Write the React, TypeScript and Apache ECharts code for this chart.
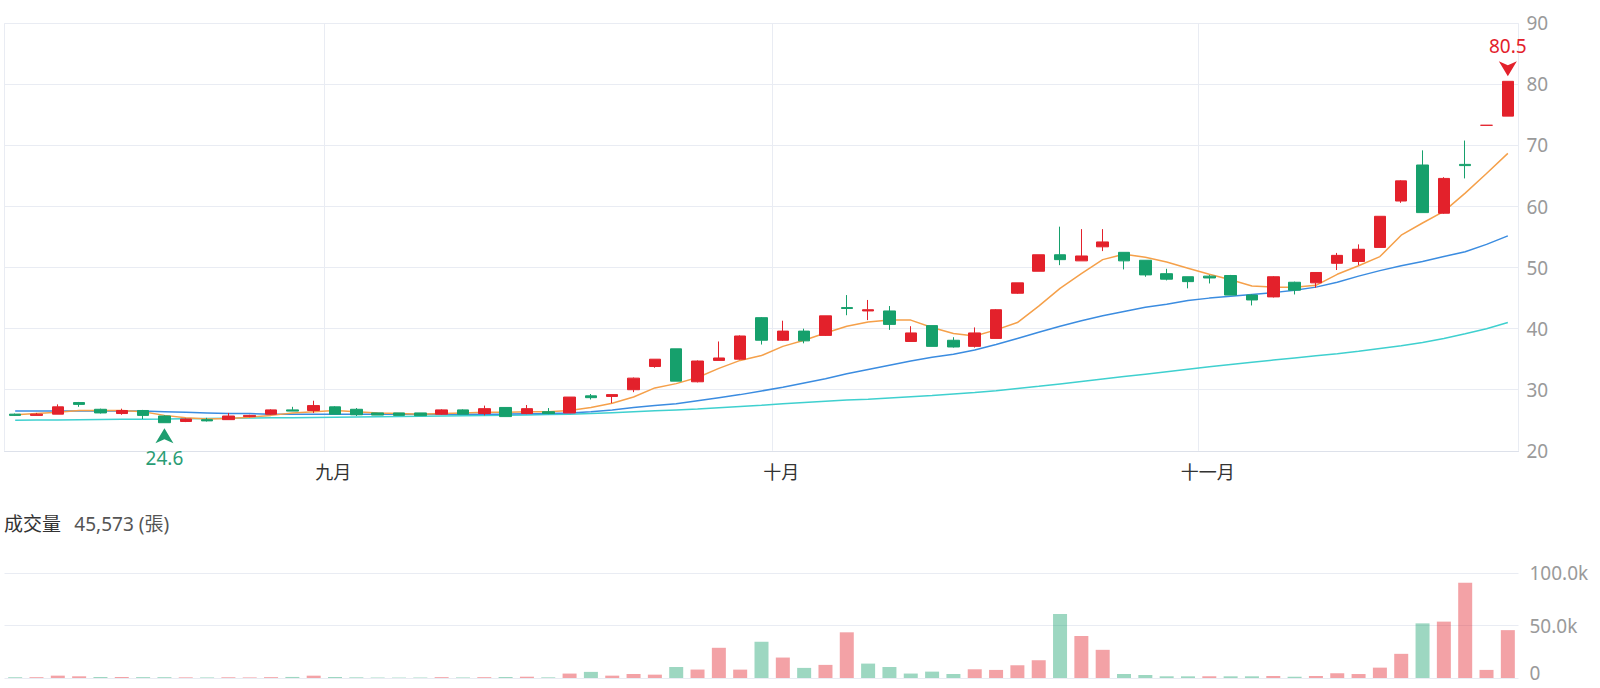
import { useEffect, useRef } from 'react';
import * as echarts from 'echarts';

// Daily candles: [open, close, low, high]
const candles: number[][] = [
  [26.0, 25.8, 25.7, 26.1], [25.8, 26.0, 25.8, 26.2], [26.0, 27.2, 26.0, 27.6], [27.9, 27.6, 27.2, 28.0],
  [26.8, 26.2, 26.1, 26.9], [26.1, 26.6, 25.9, 26.9], [26.6, 25.8, 25.2, 26.7], [25.7, 24.6, 24.6, 25.8],
  [24.8, 25.2, 24.7, 25.3], [25.1, 24.9, 24.8, 25.4], [25.1, 25.7, 25.1, 26.2], [25.6, 25.8, 25.5, 25.9],
  [26.0, 26.7, 25.9, 26.8], [26.7, 26.5, 26.5, 27.2], [26.6, 27.4, 26.2, 28.2], [27.2, 26.0, 26.0, 27.3],
  [26.8, 25.9, 25.7, 27.0], [26.2, 25.85, 25.85, 26.2], [26.2, 25.8, 25.8, 26.2], [26.2, 25.75, 25.75, 26.2],
  [26.0, 26.7, 25.9, 26.8], [26.7, 26.0, 26.0, 26.8], [26.1, 26.9, 25.8, 27.4], [27.1, 25.6, 25.6, 27.1],
  [26.1, 26.9, 26.0, 27.5], [26.4, 26.1, 26.0, 27.0], [26.2, 28.8, 26.2, 28.8], [29.0, 28.7, 28.4, 29.3],
  [28.9, 29.2, 27.8, 29.2], [30.0, 31.9, 29.6, 32.0], [33.8, 35.0, 33.6, 35.0], [36.7, 31.4, 31.4, 36.7],
  [31.3, 34.7, 31.2, 34.8], [34.8, 35.2, 34.8, 37.9], [35.0, 38.8, 34.9, 38.9], [41.8, 38.1, 37.4, 41.9],
  [38.1, 39.6, 38.0, 41.3], [39.6, 38.0, 37.6, 40.0], [38.9, 42.1, 38.8, 42.1], [43.45, 43.3, 42.2, 45.5],
  [42.9, 43.1, 41.4, 44.7], [42.9, 40.7, 39.8, 43.7], [37.9, 39.3, 37.9, 40.4], [40.5, 37.1, 37.1, 40.5],
  [38.1, 37.0, 36.9, 38.6], [37.1, 39.3, 36.9, 40.2], [38.4, 43.1, 38.4, 43.2], [45.8, 47.5, 45.7, 47.5],
  [49.4, 52.1, 49.4, 52.1], [52.1, 51.3, 50.4, 56.7], [51.1, 51.9, 51.1, 56.3], [53.4, 54.2, 52.7, 56.3],
  [52.5, 51.1, 49.7, 52.5], [51.2, 48.8, 48.5, 51.2], [49.0, 48.1, 47.9, 49.8], [48.5, 47.7, 46.6, 48.5],
  [48.6, 48.3, 47.4, 48.8], [48.7, 45.5, 45.5, 48.8], [45.5, 44.7, 43.8, 45.6], [45.2, 48.5, 45.1, 48.6],
  [47.6, 46.3, 45.6, 47.7], [47.5, 49.2, 46.7, 49.2], [50.7, 52.0, 49.6, 52.4], [51.0, 53.0, 50.4, 53.8],
  [53.3, 58.4, 53.3, 58.4], [60.9, 64.2, 60.6, 64.3], [66.8, 59.0, 59.0, 69.2], [58.9, 64.6, 58.8, 64.8],
  [66.9, 66.7, 64.6, 70.8], [73.3, 73.3, 73.3, 73.3], [74.8, 80.5, 74.8, 80.5],
];

// Trading volume in lots (張)
const volumes: number[] = [
  620, 780, 2240, 1610, 980, 1020, 830, 790, 610, 520,
  690, 540, 820, 1010, 2210, 980, 640, 420, 390, 430,
  810, 520, 790, 910, 1230, 610, 4210, 5830, 2240, 3820,
  3190, 10480, 8050, 28760, 7980, 34520, 19480, 9620, 12490, 43510,
  13720, 10460, 4230, 6080, 3790, 8310, 7690, 12130, 16920, 61040,
  39980, 26830, 3810, 2870, 1620, 1580, 1640, 1590, 1610, 1880,
  1210, 1910, 4520, 3780, 9870, 23010, 52030, 53690, 90720, 7710, 45573,
];

// Moving averages read per day
const ma5: number[] = [
  25.9, 26.1, 26.3, 26.6, 26.6, 26.6, 26.4, 25.8, 25.4, 25.2,
  25.3, 25.5, 25.8, 26.2, 26.4, 26.6, 26.4, 26.2, 26.1, 26.0,
  26.1, 26.2, 26.3, 26.3, 26.4, 26.4, 26.6, 27.1, 27.8, 28.8,
  30.3, 31.0, 32.0, 33.5, 34.8, 35.6, 37.1, 38.1, 39.3, 40.4,
  41.1, 41.4, 41.4, 40.2, 39.2, 38.8, 39.8, 41.0, 43.7, 46.6,
  49.0, 51.3, 52.2, 51.7, 50.9, 49.9, 48.9, 48.0, 47.0, 46.8,
  46.8, 47.1, 48.9, 50.3, 51.8, 55.3, 57.3, 59.2, 62.2, 65.4, 68.7,
];
const ma20: number[] = [
  26.5, 26.5, 26.5, 26.5, 26.5, 26.5, 26.5, 26.4, 26.3, 26.2,
  26.1, 26.1, 26.0, 26.0, 26.0, 26.0, 26.0, 26.0, 26.0, 26.0,
  26.0, 26.0, 26.0, 26.0, 26.05, 26.1, 26.2, 26.4, 26.7, 27.1,
  27.4, 27.7, 28.2, 28.7, 29.2, 29.8, 30.4, 31.1, 31.8, 32.6,
  33.3, 34.0, 34.7, 35.3, 35.8, 36.5, 37.4, 38.4, 39.4, 40.4,
  41.3, 42.1, 42.8, 43.5, 44.0, 44.6, 45.0, 45.3, 45.6, 45.9,
  46.3, 46.8, 47.6, 48.6, 49.5, 50.3, 51.0, 51.8, 52.6, 53.8, 55.2,
];
const ma60: number[] = [
  25.0, 25.03, 25.06, 25.09, 25.12, 25.15, 25.18, 25.2, 25.24, 25.28,
  25.32, 25.36, 25.4, 25.43, 25.46, 25.5, 25.54, 25.58, 25.62, 25.66,
  25.7, 25.74, 25.78, 25.83, 25.88, 25.93, 26.0, 26.1, 26.25, 26.4,
  26.55, 26.7, 26.85, 27.05, 27.25, 27.45, 27.7, 27.9, 28.1, 28.3,
  28.45, 28.65, 28.85, 29.05, 29.3, 29.55, 29.85, 30.2, 30.55, 30.95,
  31.35, 31.75, 32.15, 32.55, 32.95, 33.35, 33.75, 34.15, 34.5, 34.85,
  35.2, 35.55, 35.9, 36.3, 36.75, 37.2, 37.75, 38.4, 39.15, 40.0, 41.0,
];

// Month starts fall between two trading days
const monthLabels = ['九月', '十月', '十一月'];
const monthBoundaries = [14.5, 35.5, 55.5];

const priceTicks = { min: 20, max: 90, step: 10 };
const volumeTicks = { min: 0, max: 100000, step: 50000 };

const FONT = "'Noto Sans', 'Noto Sans CJK TC', sans-serif";
const UP = '#e3212b';
const DOWN = '#16a06c';
const UP_SOFT = 'rgba(227, 33, 43, 0.42)';
const DOWN_SOFT = 'rgba(22, 160, 108, 0.42)';
const GRID_LINE = '#e9ecf3';
const AXIS_TEXT = '#9a9a9a';

export default function App() {
  const ref = useRef<HTMLDivElement>(null);

  useEffect(() => {
    if (!ref.current) return;
    const chart = echarts.init(ref.current, undefined, { renderer: 'svg' });
    const days = candles.map((_, i) => String(i));
    const n = days.length;

    const volumeBars = volumes.map((v, i) => {
      const close = candles[i][1];
      const prev = i > 0 ? candles[i - 1][1] : candles[i][0];
      return { value: v, itemStyle: { color: close >= prev ? UP_SOFT : DOWN_SOFT } };
    });

    const lastVolume = volumes[volumes.length - 1].toLocaleString('en-US');

    const option: any = {
      animation: false,
      backgroundColor: '#ffffff',
      textStyle: { fontFamily: FONT },
      grid: [
        { left: 4.5, top: 23.3, width: 1514, height: 427.5, outerBoundsMode: 'none' },
        { left: 4.5, top: 573, width: 1514, height: 105, outerBoundsMode: 'none' },
      ],
      xAxis: [
        { type: 'category', gridIndex: 0, data: days, position: 'top', show: false, boundaryGap: true },
        { type: 'category', gridIndex: 1, data: days, show: false, boundaryGap: true },
        {
          type: 'value',
          gridIndex: 0,
          min: -0.5,
          max: n - 0.5,
          position: 'bottom',
          axisLine: { show: true, lineStyle: { color: '#dde1ea', width: 1 } },
          axisTick: { show: false, customValues: [-0.5, ...monthBoundaries, n - 0.5] },
          splitLine: { show: true, lineStyle: { color: GRID_LINE, width: 1 } },
          axisLabel: {
            customValues: monthBoundaries,
            formatter: (v: number) => {
              const k = monthBoundaries.indexOf(v);
              return k >= 0 ? monthLabels[k] : '';
            },
            color: '#333333',
            fontSize: 18,
            fontFamily: FONT,
            margin: 12,
            padding: [0, 0, 0, 18],
          },
        },
      ],
      yAxis: [
        {
          type: 'value',
          gridIndex: 0,
          position: 'right',
          min: priceTicks.min,
          max: priceTicks.max,
          interval: priceTicks.step,
          axisLine: { show: false },
          axisTick: { show: false },
          axisLabel: { color: AXIS_TEXT, fontSize: 19, fontFamily: FONT, margin: 8 },
          splitLine: { show: true, lineStyle: { color: GRID_LINE, width: 1 } },
        },
        {
          type: 'value',
          gridIndex: 1,
          position: 'right',
          min: volumeTicks.min,
          max: volumeTicks.max,
          interval: volumeTicks.step,
          axisLine: { show: false },
          axisTick: { show: false },
          axisLabel: {
            color: AXIS_TEXT,
            fontSize: 19,
            fontFamily: FONT,
            margin: 11,
            formatter: (v: number) => (v === 0 ? '{z|0}' : (v / 1000).toFixed(1) + 'k'),
            rich: {
              z: {
                color: AXIS_TEXT,
                fontSize: 19,
                fontFamily: FONT,
                lineHeight: 16,
                padding: [0, 0, 10, 0],
              },
            },
          },
          splitLine: { show: true, lineStyle: { color: GRID_LINE, width: 1 } },
        },
      ],
      series: [
        {
          name: 'MA60',
          type: 'line',
          xAxisIndex: 0,
          yAxisIndex: 0,
          data: ma60,
          symbol: 'none',
          lineStyle: { color: '#3fd0cf', width: 1.5 },
          z: 2,
        },
        {
          name: 'MA20',
          type: 'line',
          xAxisIndex: 0,
          yAxisIndex: 0,
          data: ma20,
          symbol: 'none',
          lineStyle: { color: '#3b8ce0', width: 1.5 },
          z: 2,
        },
        {
          name: 'MA5',
          type: 'line',
          xAxisIndex: 0,
          yAxisIndex: 0,
          data: ma5,
          symbol: 'none',
          lineStyle: { color: '#f5a04a', width: 1.5 },
          z: 2,
        },
        {
          name: 'K',
          type: 'candlestick',
          xAxisIndex: 0,
          yAxisIndex: 0,
          data: candles,
          barWidth: 12,
          z: 3,
          itemStyle: {
            color: UP,
            color0: DOWN,
            borderColor: UP,
            borderColor0: DOWN,
            borderWidth: 1,
          },
          markPoint: {
            z: 5,
            data: [
              {
                type: 'max',
                valueDim: 'highest',
                symbol: 'path://M0,0 L9,4 L18,0 L9,15 Z',
                symbolSize: [18, 15],
                symbolOffset: [0, -12.5],
                itemStyle: { color: UP },
                label: {
                  show: true,
                  position: 'top',
                  distance: 6,
                  color: UP,
                  fontSize: 19,
                  fontFamily: FONT,
                  formatter: (p: any) => Number(p.value).toFixed(1),
                },
              },
              {
                type: 'min',
                valueDim: 'lowest',
                symbol: 'path://M9,0 L18,15 L9,11 L0,15 Z',
                symbolSize: [18, 15],
                symbolOffset: [0, 13],
                itemStyle: { color: '#1f9e70' },
                label: {
                  show: true,
                  position: 'bottom',
                  distance: 5,
                  color: '#2a9d74',
                  fontSize: 19,
                  fontFamily: FONT,
                  formatter: (p: any) => Number(p.value).toFixed(1),
                },
              },
            ],
          },
        },
        {
          name: 'Volume',
          type: 'bar',
          xAxisIndex: 1,
          yAxisIndex: 1,
          data: volumeBars,
          barWidth: 14,
        },
      ],
      graphic: [
        {
          type: 'text',
          x: 4,
          y: 524,
          style: {
            text: `{a|成交量}    {b|${lastVolume} (張)}`,
            verticalAlign: 'middle',
            rich: {
              a: { fontSize: 19, fontFamily: FONT, fill: '#333333', color: '#333333' },
              b: { fontSize: 19, fontFamily: FONT, fill: '#555555', color: '#555555' },
            },
          },
        },
      ],
    };

    chart.setOption(option);
    return () => chart.dispose();
  }, []);

  return (
    <div
      ref={ref}
      style={{ position: 'absolute', left: 0, top: 0, width: 1600, height: 688 }}
    />
  );
}
